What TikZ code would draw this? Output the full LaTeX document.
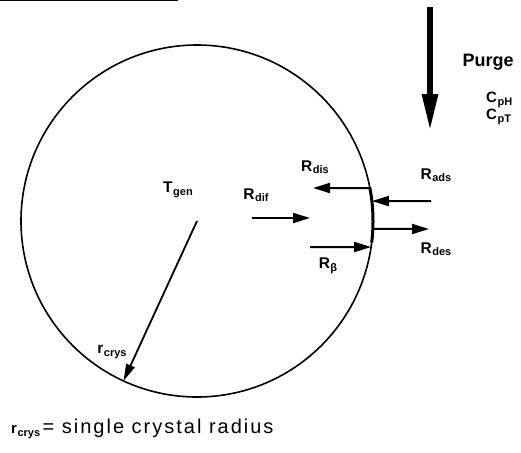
\documentclass[tikz,border=0pt]{standalone}
\usepackage{fontspec}
\setmainfont{Liberation Sans}
\newfontfamily\widesans[LetterSpace=10]{Liberation Sans}
\newcommand{\lsub}[1]{\raisebox{-0.3ex}{\fontsize{11}{13}\selectfont\hspace{0.5pt}#1}}
\usetikzlibrary{arrows.meta}

\begin{document}
\begin{tikzpicture}[x=1pt,y=-1pt,
  flux/.style={line width=2pt,-{Triangle[length=17pt,width=10pt]}},
  lbl/.style={inner sep=0pt,font=\fontsize{15.5}{17}\selectfont\bfseries},
  sublbl/.style={inner sep=0pt,anchor=west,font=\fontsize{15}{17}\selectfont\bfseries}]
\useasboundingbox (0,0) rectangle (521,452);
% scan edge
\draw[line width=1pt] (0,1) -- (178,1);
% crystal
\coordinate (ctr) at (197,221);
\draw[line width=1.6pt] (ctr) circle[radius=176];
\draw[line width=3pt] ([shift={(-11:176)}]ctr) arc[start angle=-11,end angle=7,radius=176];
% points on the surface
\coordinate (sdis) at ([shift={(-10.8:176)}]ctr);
\coordinate (sads) at ([shift={(-6.5:176)}]ctr);
\coordinate (sdes) at ([shift={(2.6:176)}]ctr);
\coordinate (sbeta) at ([shift={(8.5:176)}]ctr);
\coordinate (srim) at ([shift={(114.7:176)}]ctr);
% free ends
\coordinate (edis) at (313,188);
\coordinate (eads) at (431,201);
\coordinate (edes) at (429,229);
\coordinate (ebeta) at (310,247);
\coordinate (edif0) at (252,218);
\coordinate (edif1) at (310,218);
\coordinate (ptop) at (430,7);
\coordinate (pbot) at (430,131);
% purge stream
\draw[line width=6pt,-{Triangle[length=37pt,width=15pt]}] (ptop) -- (pbot);
\node[inner sep=0pt,font=\fontsize{18}{20}\selectfont\bfseries] (purge) at (488,62) {Purge};
\node[sublbl] (cph) at (486,100) {C\lsub{pH}};
\node[sublbl] (cpt) at (486,117) {C\lsub{pT}};
% rates
\draw[flux] (sdis) -- (edis);
\draw[flux] (eads) -- (sads);
\draw[flux] (sdes) -- (edes);
\draw[flux] (ebeta) -- (sbeta);
\draw[flux] (edif0) -- (edif1);
\draw[line width=1.8pt,-{Triangle[length=17pt,width=9pt]}] (ctr) -- (srim);
\node[lbl] (rdis) at (315,167) {R\lsub{dis}};
\node[lbl] (rads) at (436,175) {R\lsub{ads}};
\node[lbl] (rdes) at (436,249) {R\lsub{des}};
\node[lbl] (rbeta) at (328,266) {R\lsub{β}};
\node[lbl] (rdif) at (256,195) {R\lsub{dif}};
\node[lbl] (tgen) at (178,190) {T\lsub{gen}};
\node[lbl] (rcrys) at (112,352) {r\lsub{crys}};
% legend
\node[inner sep=0pt,anchor=west] (legend) at (11,429)
  {\fontsize{15}{17}\selectfont\bfseries r\lsub{crys}\,\fontsize{20}{22}\selectfont\mdseries\widesans = single crystal radius};
\end{tikzpicture}
\end{document}
